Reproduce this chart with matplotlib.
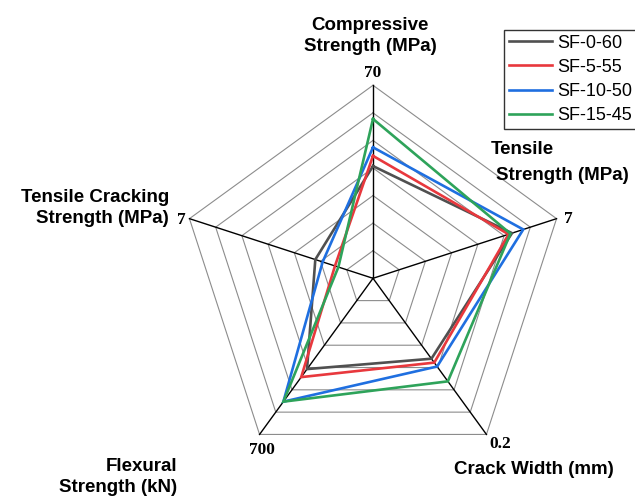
import numpy as np
import matplotlib
matplotlib.use("Agg")
import matplotlib.pyplot as plt

# Axes in clockwise order starting from the top
axis_names = ["Compressive\nStrength (MPa)", "Tensile\nStrength (MPa)",
              "Crack Width (mm)", "Flexural\nStrength (kN)",
              "Tensile Cracking\nStrength (MPa)"]
axis_max = [70, 7, 0.2, 700, 7]
axis_max_labels = ["70", "7", "0.2", "700", "7"]

series_names = ["SF-0-60", "SF-5-55", "SF-10-50", "SF-15-45"]
sf_0_60 = [40.7, 5.30, 0.103, 407, 2.20]
sf_5_55 = [44.4, 5.17, 0.108, 443, 1.45]
sf_10_50 = [47.5, 5.73, 0.113, 553, 1.92]
sf_15_45 = [57.8, 5.24, 0.132, 553, 1.32]
series_values = [sf_0_60, sf_5_55, sf_10_50, sf_15_45]
series_colors = ["#505050", "#e8383d", "#1f6fe0", "#2ea35a"]

n_rings = 7

fig = plt.figure(figsize=(6.35, 4.97), dpi=100)
ax = fig.add_axes([0, 0, 1, 1])
ax.set_xlim(0, 635)
ax.set_ylim(497, 0)
ax.set_aspect("equal")
ax.axis("off")

cx, cy, R = 373, 278.3, 193
n = len(axis_names)
angles = np.deg2rad(90 - 72 * np.arange(n))


def to_xy(frac):
    frac = np.asarray(frac, dtype=float)
    return cx + R * frac * np.cos(angles), cy - R * frac * np.sin(angles)


# pentagon rings
for k in range(1, n_rings + 1):
    x, y = to_xy(np.full(n, k / n_rings))
    ax.plot(np.append(x, x[0]), np.append(y, y[0]), color="#8c8c8c", lw=0.8, zorder=1)

# spokes
xo, yo = to_xy(np.ones(n))
for i in range(n):
    ax.plot([cx, xo[i]], [cy, yo[i]], color="black", lw=1.0, zorder=2)

# data polygons
for name, vals, col in zip(series_names, series_values, series_colors):
    frac = np.array(vals) / np.array(axis_max)
    x, y = to_xy(frac)
    ax.plot(np.append(x, x[0]), np.append(y, y[0]), color=col, lw=1.9,
            label=name, zorder=3, solid_joinstyle="miter")

# maximum labels at the spoke ends
serif = dict(family="Liberation Serif", fontweight="bold", fontsize=12.5)
ax.text(xo[0], yo[0] - 4, axis_max_labels[0], ha="center", va="bottom", **serif)
ax.text(xo[1] + 7, yo[1], axis_max_labels[1], ha="left", va="center", **serif)
ax.text(xo[2] + 3, yo[2] + 2, axis_max_labels[2], ha="left", va="top", **serif)
ax.text(xo[3] + 2, yo[3] + 8, axis_max_labels[3], ha="center", va="top", **serif)
ax.text(xo[4] - 4, yo[4] + 1, axis_max_labels[4], ha="right", va="center", **serif)

# axis titles
sans = dict(family="Liberation Sans", fontweight="bold", fontsize=13.5, linespacing=1.25)
ax.text(370, 36, axis_names[0], ha="center", va="center", **sans)
ax.text(491, 150, "Tensile", ha="left", va="center", **sans)
ax.text(496, 176, "Strength (MPa)", ha="left", va="center", **sans)
ax.text(534, 470, axis_names[2], ha="center", va="center", **sans)
ax.text(177, 477, axis_names[3], ha="right", va="center", multialignment="right", **sans)
ax.text(169, 208, axis_names[4], ha="right", va="center", multialignment="right", **sans)

leg = ax.legend(loc="upper left", bbox_to_anchor=(504 / 635, 1 - 30 / 497), frameon=True,
                fancybox=False, edgecolor="black",
                prop={"family": "Liberation Sans", "size": 13},
                handlelength=2.4, handletextpad=0.3, borderpad=0.25, labelspacing=0.4,
                borderaxespad=0)
leg.get_frame().set_linewidth(1.0)

fig.savefig("out.png", dpi=100)
